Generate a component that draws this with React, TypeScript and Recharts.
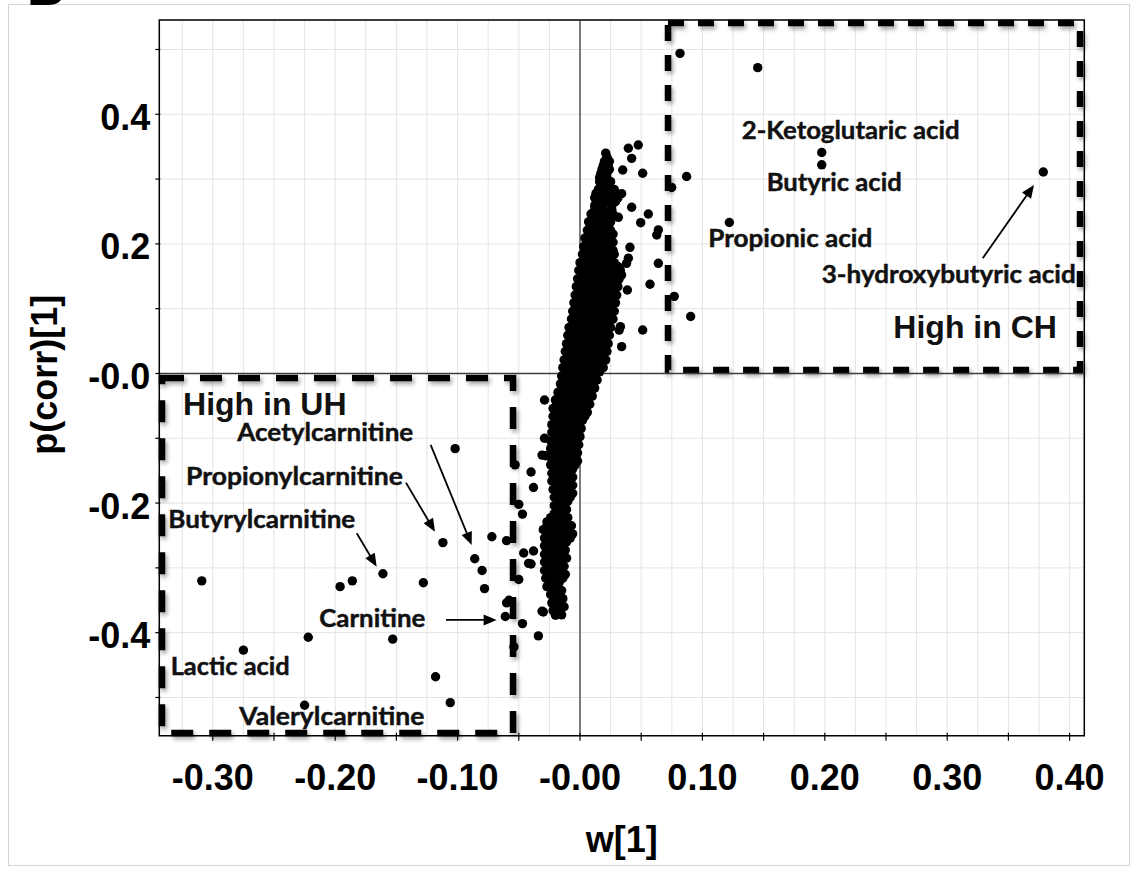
import React from 'react';
import {
  ScatterChart,
  Scatter,
  XAxis,
  YAxis,
  CartesianGrid,
  ReferenceArea,
  ReferenceLine,
  ReferenceDot,
} from 'recharts';

// ---------- axes ----------
const X_DOMAIN: [number, number] = [-0.3437, 0.412];
const Y_DOMAIN: [number, number] = [-0.559, 0.5455];

const xTicks = [
  -0.325, -0.3, -0.275, -0.25, -0.225, -0.2, -0.175, -0.15, -0.125, -0.1, -0.075, -0.05, -0.025, 0,
  0.025, 0.05, 0.075, 0.1, 0.125, 0.15, 0.175, 0.2, 0.225, 0.25, 0.275, 0.3, 0.325, 0.35, 0.375, 0.4,
];
const xMarkValues = [-0.3, -0.25, -0.2, -0.15, -0.1, -0.05, 0, 0.05, 0.1, 0.15, 0.2, 0.25, 0.3, 0.35, 0.4];
const xLabelValues = [-0.3, -0.2, -0.1, 0, 0.1, 0.2, 0.3, 0.4];
const xLabelTexts = ['-0.30', '-0.20', '-0.10', '-0.00', '0.10', '0.20', '0.30', '0.40'];

const yTicks = [-0.5, -0.4, -0.3, -0.2, -0.1, 0, 0.1, 0.2, 0.3, 0.4, 0.5];
const yLabelValues = [-0.4, -0.2, 0, 0.2, 0.4];
const yLabelTexts = ['-0.4', '-0.2', '-0.0', '0.2', '0.4'];

const xTitle = 'w[1]';
const yTitle = 'p(corr)[1]';

// ---------- data: w[1] (x), p(corr)[1] (y) ----------
const uhPoints: [number, number][] = [
  [-0.309, -0.32], [-0.275, -0.427], [-0.222, -0.407], [-0.225, -0.512], [-0.196, -0.329],
  [-0.186, -0.32], [-0.161, -0.309], [-0.153, -0.41], [-0.128, -0.323], [-0.118, -0.468],
  [-0.106, -0.508], [-0.102, -0.116], [-0.112, -0.261], [-0.086, -0.286], [-0.08, -0.304],
  [-0.078, -0.332], [-0.072, -0.252], [-0.06, -0.258], [-0.061, -0.375], [-0.06, -0.354],
  [-0.058, -0.35], [-0.054, -0.422], [-0.053, -0.141], [-0.05, -0.202], [-0.047, -0.217],
  [-0.046, -0.277], [-0.05, -0.318], [-0.047, -0.386], [-0.042, -0.293],
];

const nearPoints: [number, number][] = [
  [-0.038, -0.274], [-0.04, -0.294], [-0.04, -0.152], [-0.038, -0.176], [-0.031, -0.367],
  [-0.034, -0.405], [-0.029, -0.1], [-0.031, -0.126], [-0.028, -0.127], [-0.029, -0.041],
  [-0.02, -0.041], [-0.019, -0.339], [-0.016, -0.342], [-0.018, -0.368], [-0.02, -0.373],
  [-0.03, -0.368], [-0.012, 0.021],
  [0.0395, 0.3475], [0.0422, 0.332], [0.0476, 0.3526], [0.0349, 0.314], [0.0512, 0.309],
  [0.0422, 0.2565], [0.0558, 0.2461], [0.0496, 0.2327], [0.0313, 0.241], [0.064, 0.2215],
  [0.0627, 0.2137], [0.0408, 0.1947], [0.0395, 0.178], [0.038, 0.17], [0.064, 0.17],
  [0.032, 0.161], [0.034, 0.152], [0.0572, 0.1377], [0.0387, 0.1289], [0.0512, 0.0671],
  [0.033, 0.0722], [0.032, 0.067], [0.034, 0.0414],
];

const chPoints: [number, number][] = [
  [0.0817, 0.494], [0.1452, 0.472], [0.1975, 0.341], [0.1975, 0.322], [0.3785, 0.311],
  [0.122, 0.233], [0.0871, 0.304], [0.0749, 0.287], [0.0904, 0.088], [0.077, 0.119],
];

// dense central cloud, read row by row: [p(corr), [w values...]]
const clusterRows: [number, number[]][] = [
  [0.34, [0.021]],
  [0.334, [0.022]],
  [0.3275, [0.02, 0.024]],
  [0.321, [0.019, 0.023]],
  [0.315, [0.018, 0.024]],
  [0.309, [0.017, 0.022]],
  [0.3025, [0.016, 0.022]],
  [0.296, [0.016, 0.021, 0.025]],
  [0.29, [0.017, 0.024]],
  [0.284, [0.015, 0.021, 0.028]],
  [0.2775, [0.013, 0.02, 0.027, 0.034]],
  [0.271, [0.012, 0.018, 0.025, 0.031]],
  [0.265, [0.015, 0.022, 0.029]],
  [0.259, [0.012, 0.019, 0.026]],
  [0.2525, [0.012, 0.019, 0.026]],
  [0.246, [0.009, 0.016, 0.023, 0.027]],
  [0.24, [0.01, 0.017, 0.024]],
  [0.234, [0.007, 0.013, 0.02, 0.025]],
  [0.2275, [0.009, 0.016, 0.023]],
  [0.221, [0.006, 0.012, 0.019, 0.025]],
  [0.215, [0.007, 0.014, 0.021, 0.027]],
  [0.209, [0.004, 0.01, 0.017, 0.024]],
  [0.2025, [0.006, 0.013, 0.02, 0.027]],
  [0.196, [0.003, 0.01, 0.017, 0.024]],
  [0.19, [0.006, 0.013, 0.02, 0.027]],
  [0.184, [0.002, 0.009, 0.016, 0.023, 0.028]],
  [0.1775, [0.004, 0.011, 0.018, 0.025]],
  [0.171, [0.0, 0.007, 0.014, 0.021, 0.028]],
  [0.165, [0.003, 0.01, 0.017, 0.024, 0.031]],
  [0.159, [-0.001, 0.006, 0.013, 0.02, 0.027, 0.033]],
  [0.1525, [0.002, 0.009, 0.016, 0.023, 0.03]],
  [0.146, [-0.002, 0.005, 0.012, 0.019, 0.026, 0.032]],
  [0.14, [0.001, 0.008, 0.015, 0.022, 0.029]],
  [0.134, [-0.003, 0.004, 0.011, 0.018, 0.025, 0.031]],
  [0.1275, [0.0, 0.007, 0.014, 0.021, 0.028]],
  [0.121, [-0.004, 0.003, 0.01, 0.017, 0.024, 0.03]],
  [0.115, [-0.001, 0.006, 0.013, 0.02, 0.027]],
  [0.109, [-0.005, 0.002, 0.009, 0.016, 0.023, 0.029]],
  [0.1025, [-0.002, 0.005, 0.012, 0.019, 0.026]],
  [0.096, [-0.006, 0.001, 0.008, 0.015, 0.022, 0.028]],
  [0.09, [-0.003, 0.004, 0.011, 0.018, 0.025]],
  [0.084, [-0.007, 0.0, 0.007, 0.014, 0.021, 0.027]],
  [0.0775, [-0.004, 0.003, 0.01, 0.017, 0.024]],
  [0.071, [-0.009, -0.002, 0.005, 0.012, 0.019, 0.025]],
  [0.065, [-0.006, 0.001, 0.008, 0.015, 0.022]],
  [0.059, [-0.01, -0.003, 0.004, 0.011, 0.018, 0.024]],
  [0.0525, [-0.007, 0.0, 0.007, 0.014, 0.021]],
  [0.046, [-0.011, -0.004, 0.003, 0.01, 0.017, 0.023]],
  [0.04, [-0.008, -0.001, 0.006, 0.013, 0.02]],
  [0.034, [-0.012, -0.005, 0.002, 0.009, 0.016, 0.022]],
  [0.0275, [-0.009, -0.002, 0.005, 0.012, 0.019]],
  [0.021, [-0.013, -0.006, 0.001, 0.008, 0.015, 0.021]],
  [0.015, [-0.01, -0.003, 0.004, 0.011, 0.018]],
  [0.009, [-0.014, -0.007, 0.0, 0.007, 0.014, 0.019]],
  [0.0025, [-0.011, -0.004, 0.003, 0.01, 0.016]],
  [-0.004, [-0.015, -0.008, -0.001, 0.006, 0.012]],
  [-0.01, [-0.012, -0.005, 0.002, 0.009, 0.014]],
  [-0.016, [-0.016, -0.009, -0.002, 0.005, 0.011]],
  [-0.0225, [-0.014, -0.007, 0.0, 0.007, 0.012]],
  [-0.029, [-0.018, -0.011, -0.004, 0.003, 0.009]],
  [-0.035, [-0.016, -0.009, -0.002, 0.005, 0.01]],
  [-0.041, [-0.02, -0.013, -0.006, 0.001, 0.007]],
  [-0.0475, [-0.018, -0.011, -0.004, 0.003, 0.008]],
  [-0.054, [-0.022, -0.015, -0.008, -0.001, 0.005]],
  [-0.06, [-0.019, -0.012, -0.005, 0.002, 0.006]],
  [-0.066, [-0.022, -0.015, -0.008, -0.001, 0.004]],
  [-0.0725, [-0.019, -0.012, -0.005, 0.002]],
  [-0.079, [-0.023, -0.016, -0.009, -0.002]],
  [-0.085, [-0.02, -0.013, -0.006, 0.001]],
  [-0.091, [-0.023, -0.016, -0.009, -0.003]],
  [-0.0975, [-0.02, -0.013, -0.006, 0.0]],
  [-0.104, [-0.024, -0.017, -0.01, -0.003]],
  [-0.11, [-0.021, -0.014, -0.007, -0.001]],
  [-0.116, [-0.024, -0.017, -0.01, -0.004]],
  [-0.1225, [-0.021, -0.014, -0.007, -0.002]],
  [-0.129, [-0.024, -0.017, -0.01, -0.004]],
  [-0.135, [-0.021, -0.014, -0.007, -0.002]],
  [-0.141, [-0.024, -0.017, -0.01, -0.004]],
  [-0.1475, [-0.02, -0.013, -0.006]],
  [-0.154, [-0.023, -0.016, -0.009]],
  [-0.16, [-0.02, -0.013, -0.006]],
  [-0.166, [-0.023, -0.016, -0.009]],
  [-0.1725, [-0.019, -0.012, -0.006]],
  [-0.179, [-0.022, -0.015, -0.009]],
  [-0.185, [-0.018, -0.011, -0.006]],
  [-0.191, [-0.021, -0.014, -0.008]],
  [-0.1975, [-0.017, -0.01]],
  [-0.204, [-0.021, -0.014]],
  [-0.21, [-0.018, -0.011]],
  [-0.216, [-0.021, -0.014]],
  [-0.2225, [-0.024, -0.017, -0.01]],
  [-0.229, [-0.027, -0.02, -0.013]],
  [-0.235, [-0.027, -0.02, -0.013, -0.007]],
  [-0.241, [-0.03, -0.023, -0.016, -0.01]],
  [-0.2475, [-0.026, -0.019, -0.012, -0.006]],
  [-0.254, [-0.029, -0.022, -0.015, -0.008]],
  [-0.26, [-0.025, -0.018, -0.011]],
  [-0.266, [-0.029, -0.022, -0.015]],
  [-0.2725, [-0.026, -0.019, -0.012]],
  [-0.279, [-0.029, -0.022, -0.015]],
  [-0.285, [-0.025, -0.018, -0.011]],
  [-0.291, [-0.029, -0.022, -0.015]],
  [-0.2975, [-0.026, -0.019, -0.013]],
  [-0.304, [-0.029, -0.022, -0.015]],
  [-0.31, [-0.025, -0.018, -0.012]],
  [-0.316, [-0.028, -0.021, -0.014]],
  [-0.3225, [-0.024, -0.017]],
  [-0.329, [-0.027, -0.02]],
  [-0.335, [-0.021, -0.015]],
  [-0.341, [-0.024, -0.017]],
  [-0.3475, [-0.02, -0.014]],
  [-0.354, [-0.023, -0.016]],
  [-0.36, [-0.019, -0.013]],
  [-0.366, [-0.022, -0.016]],
  [-0.3725, [-0.02, -0.015]],
];

// ---------- annotations (data coordinates) ----------
const metaboliteLabels = [
  { text: 'Acetylcarnitine', x: -0.28, y: -0.1042 },
  { text: 'Propionylcarnitine', x: -0.3219, y: -0.1721 },
  { text: 'Butyrylcarnitine', x: -0.3364, y: -0.2389 },
  { text: 'Carnitine', x: -0.213, y: -0.3907 },
  { text: 'Lactic acid', x: -0.3344, y: -0.4653 },
  { text: 'Valerylcarnitine', x: -0.2783, y: -0.5424 },
  { text: '2-Ketoglutaric acid', x: 0.1321, y: 0.3614 },
  { text: 'Butyric acid', x: 0.1525, y: 0.2816 },
  { text: 'Propionic acid', x: 0.1048, y: 0.1948 },
  { text: '3-hydroxybutyric acid', x: 0.1975, y: 0.1392 },
];
const groupLabels = [
  { text: 'High in UH', x: -0.3243, y: -0.064 },
  { text: 'High in CH', x: 0.256, y: 0.0543 },
];
const arrowFrom: [number, number][] = [
  [-0.1824, -0.2466], [-0.1422, -0.1685], [-0.122, -0.1103], [-0.1095, -0.3804], [0.329, 0.1778],
];
const arrowTo: [number, number][] = [
  [-0.1661, -0.2981], [-0.1185, -0.2441], [-0.0885, -0.2647], [-0.0681, -0.3804], [0.3709, 0.2909],
];
const chBox = { x1: 0.0719, x2: 0.4085, y1: 0.0054, y2: 0.541 };
const uhBox = { x1: -0.3415, x2: -0.0547, y1: -0.555, y2: -0.0069 };

// ---------- styles ----------
const AXIS_FONT = "'Liberation Sans', Arial, Helvetica, sans-serif";
const LABEL_FONT = "Lato, 'Open Sans', sans-serif";
const labelWidths: Record<string, number> = {
  Acetylcarnitine: 176,
  Propionylcarnitine: 217,
  Butyrylcarnitine: 187,
  Carnitine: 106,
  'Lactic acid': 119,
  Valerylcarnitine: 185,
  '2-Ketoglutaric acid': 218,
  'Butyric acid': 135,
  'Propionic acid': 164,
  '3-hydroxybutyric acid': 254,
};

const allPoints = [
  ...clusterRows.flatMap(([y, xs]) => xs.map((x) => ({ x, y }))),
  ...nearPoints.map(([x, y]) => ({ x, y })),
  ...uhPoints.map(([x, y]) => ({ x, y })),
  ...chPoints.map(([x, y]) => ({ x, y })),
];

const near = (a: number, b: number) => Math.abs(a - b) < 1e-6;

const XTick = (props: any) => {
  const { x, y, payload } = props;
  const v = payload.value;
  const mark = xMarkValues.some((m) => near(m, v));
  const li = xLabelValues.findIndex((m) => near(m, v));
  return (
    <g>
      {mark && <line x1={x} x2={x} y1={y - 3} y2={y + 5} stroke="#000" strokeWidth={1.2} />}
      {li >= 0 && (
        <text x={x} y={y + 54} textAnchor="middle" fontFamily={AXIS_FONT} fontWeight="bold" fontSize={36} fill="#000">
          {xLabelTexts[li]}
        </text>
      )}
    </g>
  );
};

const YTick = (props: any) => {
  const { x, y, payload } = props;
  const v = payload.value;
  const li = yLabelValues.findIndex((m) => near(m, v));
  return (
    <g>
      <line x1={x - 4} x2={x + 1} y1={y} y2={y} stroke="#000" strokeWidth={1.2} />
      {li >= 0 && (
        <text x={x - 9} y={y + 15.5} textAnchor="end" fontFamily={AXIS_FONT} fontWeight="bold" fontSize={36} fill="#000">
          {yLabelTexts[li]}
        </text>
      )}
    </g>
  );
};

const XTitle = (props: any) => {
  const vb = props.viewBox;
  return (
    <text x={vb.x + vb.width / 2} y={vb.y + 116} textAnchor="middle" fontFamily={AXIS_FONT} fontWeight="bold" fontSize={36} fill="#000">
      {xTitle}
    </text>
  );
};

const YTitle = (props: any) => {
  const vb = props.viewBox;
  const cx = vb.x + 57;
  const cy = vb.y + vb.height / 2 - 3;
  return (
    <text transform={`translate(${cx},${cy}) rotate(-90)`} textAnchor="middle" fontFamily={AXIS_FONT} fontWeight="bold" fontSize={36} fill="#000">
      {yTitle}
    </text>
  );
};

const Dot = (p: any) => <circle cx={p.cx} cy={p.cy} r={4.7} fill="#000" />;

const dashedBox = (dash: string) => (p: any) => (
  <rect
    x={p.x}
    y={p.y}
    width={p.width}
    height={p.height}
    fill="none"
    stroke="#000"
    strokeWidth={6.5}
    strokeDasharray={dash}
    filter="url(#boxShadow)"
  />
);

const Arrow = (p: any) => {
  const { x1, y1, x2, y2 } = p;
  const dx = x2 - x1;
  const dy = y2 - y1;
  const len = Math.sqrt(dx * dx + dy * dy) || 1;
  const ux = dx / len;
  const uy = dy / len;
  const hl = 13;
  const hw = 5.5;
  const bx = x2 - ux * hl;
  const by = y2 - uy * hl;
  return (
    <g>
      <line x1={x1} y1={y1} x2={bx + ux * 2} y2={by + uy * 2} stroke="#000" strokeWidth={1.8} />
      <polygon
        points={`${x2},${y2} ${bx - uy * hw},${by + ux * hw} ${bx + uy * hw},${by - ux * hw}`}
        fill="#000"
      />
    </g>
  );
};

const metaboliteText = (text: string) => (p: any) => (
  <text
    x={p.cx}
    y={p.cy}
    fontFamily={LABEL_FONT}
    fontWeight={700}
    fontSize={24.5}
    fill="#111"
    stroke="#111"
    strokeWidth={0.45}
    textLength={labelWidths[text]}
    lengthAdjust="spacingAndGlyphs"
  >
    {text}
  </text>
);

const groupText = (text: string) => (p: any) => (
  <text x={p.cx} y={p.cy} fontFamily={AXIS_FONT} fontWeight="bold" fontSize={32} fill="#111">
    {text}
  </text>
);

export default function App() {
  return (
    <div style={{ position: 'absolute', left: 0, top: 0, width: 1131, height: 870, background: '#fff' }}>
      <svg width={1131} height={870} style={{ position: 'absolute', left: 0, top: 0 }}>
        <defs>
          <filter id="boxShadow" x="-10%" y="-10%" width="120%" height="120%">
            <feDropShadow dx="2" dy="3" stdDeviation="2" floodColor="#000" floodOpacity="0.35" />
          </filter>
        </defs>
        <rect x={8.5} y={4.5} width={1121} height={861} fill="none" stroke="#d4d4d4" strokeWidth={1} />
        <text x={27} y={5} fontFamily={AXIS_FONT} fontWeight="bold" fontSize={52} fill="#000">
          B
        </text>
      </svg>
      <div style={{ position: 'absolute', left: 0, top: 0 }}>
        <ScatterChart width={1131} height={870} margin={{ top: 20, right: 46.7, bottom: 0, left: 0 }}>
          <CartesianGrid stroke="#e4e4e4" strokeWidth={1} />
          <XAxis
            type="number"
            dataKey="x"
            domain={X_DOMAIN}
            allowDataOverflow
            ticks={xTicks}
            interval={0}
            tick={<XTick />}
            tickLine={false}
            axisLine={false}
            tickSize={0}
            tickMargin={0}
            height={134.3}
            label={XTitle}
          />
          <YAxis
            type="number"
            dataKey="y"
            domain={Y_DOMAIN}
            allowDataOverflow
            ticks={yTicks}
            interval={0}
            tick={<YTick />}
            tickLine={false}
            axisLine={false}
            tickSize={0}
            tickMargin={0}
            width={159.3}
            label={YTitle}
          />
          <ReferenceLine x={0} stroke="#3c3c3c" strokeWidth={1.3} />
          <ReferenceLine y={0} stroke="#3c3c3c" strokeWidth={1.3} />
          <ReferenceArea
            x1={X_DOMAIN[0]}
            x2={X_DOMAIN[1]}
            y1={Y_DOMAIN[0]}
            y2={Y_DOMAIN[1]}
            fill="none"
            fillOpacity={0}
            stroke="#000"
            strokeWidth={1.5}
          />
          <Scatter data={allPoints} shape={Dot} isAnimationActive={false} />
          <ReferenceArea {...chBox} shape={dashedBox('16 14')} />
          <ReferenceArea {...uhBox} shape={dashedBox('22 16')} />
          {arrowFrom.map((f, i) => (
            <ReferenceLine
              key={`arrow-${i}`}
              segment={[
                { x: f[0], y: f[1] },
                { x: arrowTo[i][0], y: arrowTo[i][1] },
              ]}
              shape={Arrow}
            />
          ))}
          {metaboliteLabels.map((l) => (
            <ReferenceDot key={l.text} x={l.x} y={l.y} r={0} shape={metaboliteText(l.text)} />
          ))}
          {groupLabels.map((l) => (
            <ReferenceDot key={l.text} x={l.x} y={l.y} r={0} shape={groupText(l.text)} />
          ))}
        </ScatterChart>
      </div>
    </div>
  );
}
